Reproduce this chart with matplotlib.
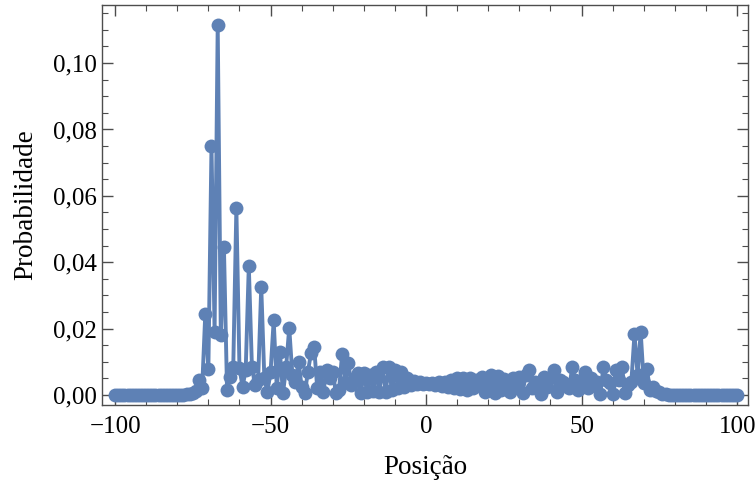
import numpy as np
import matplotlib
matplotlib.use("Agg")
import matplotlib.pyplot as plt
from matplotlib.ticker import FuncFormatter, MultipleLocator

# posições -100..100
positions = list(range(-100, 101))

# probabilidades, em blocos
prob_far_left = [0.0] * 22 + [0.0001, 0.0002]            # -100..-77
prob_left = [
    0.0003, 0.0006, 0.0012, 0.0045, 0.0020, 0.0243, 0.0078, 0.0750, 0.0190, 0.1114,   # -76..-67
    0.0180, 0.0446, 0.0015, 0.0055, 0.0084, 0.0563, 0.0080, 0.0025, 0.0075, 0.0389,   # -66..-57
    0.0085, 0.0030, 0.0045, 0.0326, 0.0050, 0.0010, 0.0070, 0.0225, 0.0020, 0.0130,   # -56..-47
    0.0005, 0.0085, 0.0203, 0.0060, 0.0040, 0.0100, 0.0025, 0.0005, 0.0070, 0.0126,   # -46..-37
    0.0146, 0.0020, 0.0070, 0.0010, 0.0075, 0.0050, 0.0070, 0.0005, 0.0015, 0.0124,   # -36..-27
    0.0040, 0.0097, 0.0030, 0.0050, 0.0066, 0.0006, 0.0066, 0.0010, 0.0060, 0.0012,   # -26..-17
    0.0070, 0.0008, 0.0085, 0.0010, 0.0085, 0.0015, 0.0075, 0.0020, 0.0070, 0.0025,   # -16..-7
    0.0050, 0.0030, 0.0042, 0.0032, 0.0038, 0.0033,                                   # -6..-1
]
prob_center = [
    0.0035, 0.0034, 0.0036, 0.0030, 0.0038, 0.0028, 0.0040, 0.0025, 0.0045, 0.0020,   # 0..9
    0.0050, 0.0018, 0.0052, 0.0015, 0.0050, 0.0020, 0.0045, 0.0030, 0.0055, 0.0010,   # 10..19
    0.0040, 0.0060, 0.0005, 0.0058, 0.0015, 0.0048, 0.0035, 0.0010, 0.0050, 0.0025,   # 20..29
    0.0055, 0.0005, 0.0060,                                                           # 30..32
]
prob_right = [
    0.0075, 0.0020, 0.0040, 0.0030, 0.0002, 0.0055, 0.0025, 0.0050, 0.0075, 0.0010,   # 33..42
    0.0045, 0.0040, 0.0030, 0.0020, 0.0085, 0.0045, 0.0015, 0.0040, 0.0068, 0.0020,   # 43..52
    0.0050, 0.0030, 0.0040, 0.0003, 0.0085, 0.0045, 0.0035, 0.0003, 0.0075, 0.0045,   # 53..62
    0.0085, 0.0005, 0.0030, 0.0040, 0.0184, 0.0060, 0.0190, 0.0035, 0.0078, 0.0015,   # 63..72
    0.0025, 0.0012, 0.0008, 0.0004, 0.0002, 0.0001,                                   # 73..78
]
prob_far_right = [0.0] * 22                                # 79..100

probabilities = prob_far_left + prob_left + prob_center + prob_right + prob_far_right

plt.rcParams['font.family'] = ['Liberation Serif', 'DejaVu Serif']

color = '#5E81B5'
frame = '#4d4d4d'

fig = plt.figure(figsize=(7.55, 4.82), dpi=100)
ax = fig.add_axes([102 / 755, 1 - 405 / 482, 646 / 755, 400 / 482])

ax.plot(positions, probabilities, color=color, linewidth=2.8,
        marker='o', markersize=10, markeredgewidth=0)

ax.set_xlim(-104.2, 103.5)
ax.set_ylim(-0.003, 0.1175)

ax.xaxis.set_major_locator(MultipleLocator(50))
ax.xaxis.set_minor_locator(MultipleLocator(10))
ax.yaxis.set_major_locator(MultipleLocator(0.02))
ax.yaxis.set_minor_locator(MultipleLocator(0.005))
ax.yaxis.set_major_formatter(FuncFormatter(lambda v, p: f"{v:.2f}".replace('.', ',')))
ax.xaxis.set_major_formatter(FuncFormatter(lambda v, p: f"{int(round(v))}".replace('-', '\u2212')))

ax.tick_params(which='both', direction='in', top=True, right=True,
               color=frame, labelsize=18, labelcolor='black')
ax.tick_params(which='major', length=8, width=1)
ax.tick_params(which='minor', length=4, width=0.8)
ax.tick_params(axis='x', pad=8)
for s in ax.spines.values():
    s.set_color(frame)
    s.set_linewidth(1)

ax.set_xlabel("Posição", fontsize=19.5, labelpad=12)
ax.set_ylabel("Probabilidade", fontsize=19.5, labelpad=11)

fig.savefig("out.png", dpi=100)
